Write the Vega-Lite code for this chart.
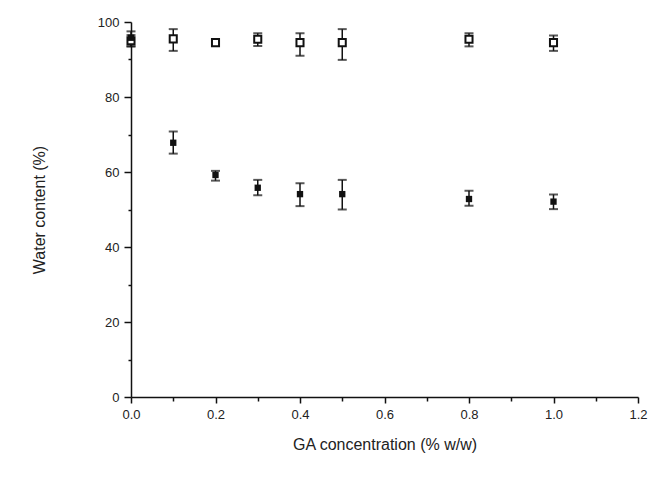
{
  "$schema": "https://vega.github.io/schema/vega-lite/v6.json",
  "width": 507,
  "height": 375,
  "autosize": "none",
  "padding": {"left": 131, "top": 22, "right": 26, "bottom": 81},
  "background": "white",
  "config": {"view": {"stroke": null}, "font": "Liberation Sans"},
  "data": {"values": [
    {"x": 0.0, "series": "open", "y": 95.0, "lo": 93.5, "hi": 96.5},
    {"x": 0.1, "series": "open", "y": 95.5, "lo": 92.3, "hi": 98.1},
    {"x": 0.2, "series": "open", "y": 94.5, "lo": null, "hi": null},
    {"x": 0.3, "series": "open", "y": 95.4, "lo": 93.6, "hi": 97.0},
    {"x": 0.4, "series": "open", "y": 94.5, "lo": 91.0, "hi": 97.0},
    {"x": 0.5, "series": "open", "y": 94.5, "lo": 89.9, "hi": 98.1},
    {"x": 0.8, "series": "open", "y": 95.4, "lo": 93.5, "hi": 97.0},
    {"x": 1.0, "series": "open", "y": 94.5, "lo": 92.3, "hi": 96.4},
    {"x": 0.0, "series": "filled", "y": 95.8, "lo": 93.5, "hi": 97.5},
    {"x": 0.1, "series": "filled", "y": 67.8, "lo": 64.9, "hi": 70.8},
    {"x": 0.2, "series": "filled", "y": 59.2, "lo": 57.7, "hi": 60.3},
    {"x": 0.3, "series": "filled", "y": 55.8, "lo": 53.8, "hi": 57.9},
    {"x": 0.4, "series": "filled", "y": 54.1, "lo": 50.9, "hi": 57.0},
    {"x": 0.5, "series": "filled", "y": 54.1, "lo": 50.0, "hi": 57.9},
    {"x": 0.8, "series": "filled", "y": 52.8, "lo": 51.0, "hi": 55.0},
    {"x": 1.0, "series": "filled", "y": 52.1, "lo": 50.1, "hi": 54.0}
  ]},
  "encoding": {
    "x": {
      "field": "x", "type": "quantitative",
      "scale": {"domain": [0, 1.2], "nice": false, "zero": false},
      "axis": {
        "title": "GA concentration (% w/w)",
        "values": [0, 0.1, 0.2, 0.3, 0.4, 0.5, 0.6, 0.7, 0.8, 0.9, 1.0, 1.1, 1.2],
        "format": ".1f",
        "labelExpr": "round(datum.value*10) % 2 === 0 ? datum.label : ''",
        "grid": false,
        "domainColor": "#111", "domainWidth": 1.5,
        "tickColor": "#111", "tickWidth": 1.5,
        "tickSize": {"condition": {"test": "round(datum.value*10) % 2 === 0", "value": 6}, "value": 4},
        "labelFontSize": 13, "labelColor": "#222", "labelPadding": 5,
        "labelFlush": false,
        "titleFontSize": 16, "titleFontWeight": "normal", "titleColor": "#222", "titlePadding": 15
      }
    },
    "y": {
      "field": "y", "type": "quantitative",
      "scale": {"domain": [0, 100], "nice": false},
      "axis": {
        "title": "Water content (%)",
        "values": [0, 10, 20, 30, 40, 50, 60, 70, 80, 90, 100],
        "labelExpr": "datum.value % 20 === 0 ? datum.label : ''",
        "grid": false,
        "domainColor": "#111", "domainWidth": 1.5,
        "tickColor": "#111", "tickWidth": 1.5,
        "tickSize": {"condition": {"test": "datum.value % 20 === 0", "value": 7}, "value": 3},
        "labelFontSize": 13, "labelColor": "#222", "labelPadding": 5,
        "labelFlush": false,
        "titleFontSize": 16, "titleFontWeight": "normal", "titleColor": "#222", "titlePadding": 50
      }
    }
  },
  "layer": [
    {
      "transform": [{"filter": "datum.lo != null"}],
      "mark": {"type": "rule", "color": "#111", "strokeWidth": 1.5},
      "encoding": {"y": {"field": "lo", "type": "quantitative"}, "y2": {"field": "hi"}}
    },
    {
      "transform": [{"filter": "datum.lo != null"}],
      "mark": {"type": "tick", "orient": "horizontal", "color": "#111", "size": 9, "thickness": 2},
      "encoding": {"y": {"field": "lo", "type": "quantitative"}}
    },
    {
      "transform": [{"filter": "datum.lo != null"}],
      "mark": {"type": "tick", "orient": "horizontal", "color": "#111", "size": 9, "thickness": 2},
      "encoding": {"y": {"field": "hi", "type": "quantitative"}}
    },
    {
      "transform": [{"filter": "datum.series === 'open'"}],
      "mark": {"type": "square", "filled": true, "fill": "white", "stroke": "#111", "strokeWidth": 2, "size": 50, "opacity": 1}
    },
    {
      "transform": [{"filter": "datum.series === 'filled'"}],
      "mark": {"type": "square", "filled": true, "color": "#111", "size": 40, "opacity": 1}
    }
  ]
}
